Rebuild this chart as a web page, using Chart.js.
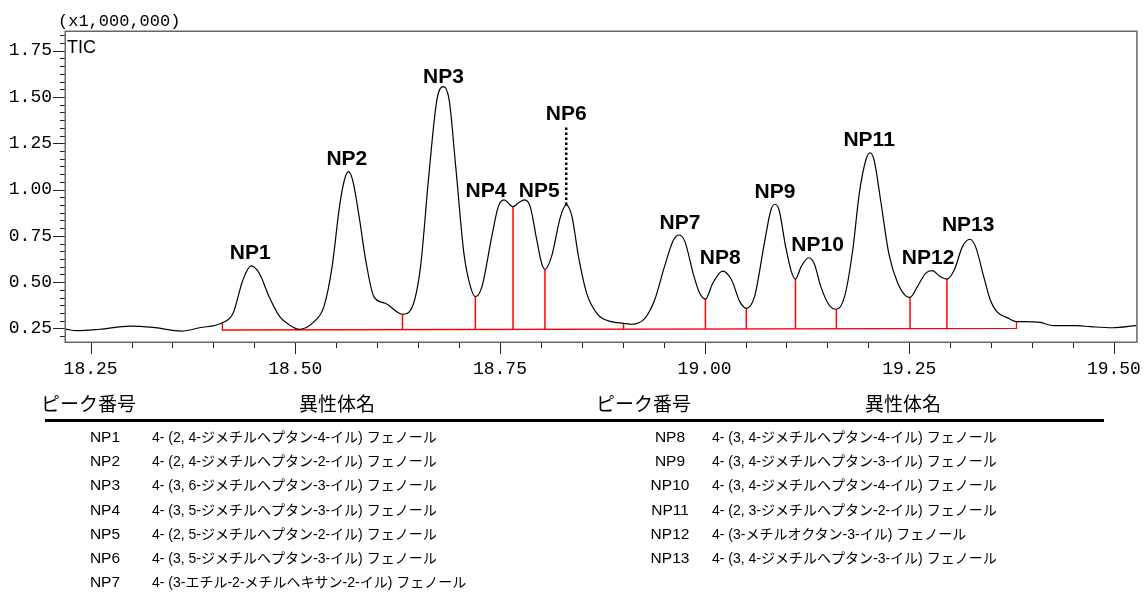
<!DOCTYPE html>
<html><head><meta charset="utf-8">
<script src="https://cdn.jsdelivr.net/npm/chart.js@4.4.0/dist/chart.umd.min.js"></script>
<style>
html,body{margin:0;padding:0;background:#fff;}
#wrap{position:relative;width:1145px;height:606px;overflow:hidden;background:#fff;}
#c{position:absolute;left:0;top:0;}
.t{position:absolute;white-space:nowrap;color:#000;}
.hd{font-family:"Noto Sans CJK JP",sans-serif;font-size:19px;line-height:24px;height:24px;}
.id{font-family:"Liberation Sans",Arial,sans-serif;font-size:15.5px;line-height:24px;height:24px;text-align:center;width:60px;}
.nm{font-family:"Liberation Sans","Noto Sans CJK JP",sans-serif;font-size:14px;line-height:24px;height:24px;}
#rule{position:absolute;left:45px;top:419px;width:1059px;height:3px;background:#000;}
</style></head><body>
<div id="wrap"><canvas id="c" width="1145" height="395" style="width:1145px;height:395px"></canvas><div id="rule"></div></div>
<script>
// ---- data ----
const retentionTime = [18.219,18.233,18.261,18.298,18.326,18.361,18.383,18.411,18.424,18.436,
18.446,18.456,18.468,18.481,18.493,18.505,18.523,18.535,18.545,18.554,
18.560,18.565,18.570,18.578,18.586,18.596,18.610,18.627,18.631,18.643,
18.653,18.663,18.673,18.681,18.688,18.696,18.706,18.714,18.720,18.728,
18.740,18.748,18.755,18.766,18.773,18.780,18.787,18.795,18.801,18.805,
18.813,18.824,18.831,18.838,18.846,18.856,18.870,18.886,18.901,18.911,
18.927,18.939,18.951,18.962,18.969,18.976,18.986,18.994,19.001,19.010,
19.022,19.033,19.043,19.051,19.061,19.073,19.081,19.086,19.091,19.099,
19.106,19.111,19.118,19.127,19.134,19.142,19.152,19.161,19.171,19.181,
19.189,19.197,19.202,19.207,19.215,19.225,19.236,19.246,19.251,19.260,
19.270,19.278,19.288,19.296,19.305,19.315,19.324,19.331,19.341,19.349,
19.357,19.369,19.381,19.390,19.410,19.426,19.455,19.471,19.498,19.528];
const intensity = [0.247,0.238,0.246,0.263,0.256,0.236,0.254,0.281,0.332,0.512,
0.588,0.548,0.422,0.314,0.269,0.246,0.287,0.368,0.584,0.908,
1.052,1.097,1.052,0.854,0.620,0.422,0.386,0.332,0.327,0.368,
0.584,1.070,1.484,1.556,1.484,1.124,0.656,0.476,0.422,0.476,
0.746,0.908,0.944,0.908,0.929,0.944,0.908,0.728,0.602,0.570,
0.638,0.854,0.917,0.854,0.638,0.440,0.323,0.287,0.278,0.273,
0.305,0.404,0.584,0.728,0.755,0.719,0.548,0.440,0.409,0.494,
0.560,0.512,0.395,0.359,0.422,0.710,0.890,0.921,0.890,0.692,
0.557,0.517,0.584,0.632,0.600,0.476,0.377,0.354,0.422,0.674,
0.980,1.160,1.199,1.160,0.944,0.656,0.494,0.425,0.418,0.476,
0.548,0.562,0.530,0.517,0.566,0.692,0.732,0.692,0.530,0.404,
0.341,0.310,0.287,0.287,0.283,0.265,0.265,0.260,0.254,0.267];

// integration baseline (start / end) and peak drop lines
const baselineTime = [18.411, 19.381];
const baselineLevel = [0.242, 0.251];
const baselineEdgeTop = [0.281, 0.287];
const dropTime = [18.505,18.631,18.720,18.766,18.805,18.901,19.001,19.051,19.111,19.161,19.251,19.296];
const dropTop  = [0.246,0.327,0.422,0.908,0.570,0.278,0.409,0.359,0.517,0.354,0.418,0.517];

// NP6 marker (dotted)
const markerTime = [18.831, 18.831];
const markerLevel = [0.917, 1.349];

// peak labels
const peakIds = ['NP1','NP2','NP3','NP4','NP5','NP6','NP7','NP8','NP9','NP10','NP11','NP12','NP13'];
const labelTime = [18.445,18.563,18.681,18.733,18.798,18.831,18.970,19.019,19.086,19.138,19.201,19.273,19.322];
const labelLevel = [0.658,1.165,1.608,0.992,0.992,1.408,0.820,0.631,0.987,0.701,1.268,0.631,0.809];

const isomerNames = [
 '4- (2, 4-ジメチルヘプタン-4-イル) フェノール',
 '4- (2, 4-ジメチルヘプタン-2-イル) フェノール',
 '4- (3, 6-ジメチルヘプタン-3-イル) フェノール',
 '4- (3, 5-ジメチルヘプタン-3-イル) フェノール',
 '4- (2, 5-ジメチルヘプタン-2-イル) フェノール',
 '4- (3, 5-ジメチルヘプタン-3-イル) フェノール',
 '4- (3-エチル-2-メチルヘキサン-2-イル) フェノール',
 '4- (3, 4-ジメチルヘプタン-4-イル) フェノール',
 '4- (3, 4-ジメチルヘプタン-3-イル) フェノール',
 '4- (3, 4-ジメチルヘプタン-4-イル) フェノール',
 '4- (2, 3-ジメチルヘプタン-2-イル) フェノール',
 '4- (3-メチルオクタン-3-イル) フェノール',
 '4- (3, 4-ジメチルヘプタン-3-イル) フェノール'
];
const headerPeak = 'ピーク番号';
const headerName = '異性体名';

const xTickLabels = ['18.25','18.50','18.75','19.00','19.25','19.50'];
const yTickLabels = ['0.25','0.50','0.75','1.00','1.25','1.50','1.75'];
const yUnitText = '(x1,000,000)';
const traceName = 'TIC';

// ---- build datasets ----
const curvePts = retentionTime.map((t,i)=>({x:t,y:intensity[i]}));
const blAt = t => baselineLevel[0] + (t-baselineTime[0])/(baselineTime[1]-baselineTime[0])*(baselineLevel[1]-baselineLevel[0]);
const baselinePts = [
  {x:baselineTime[0], y:baselineEdgeTop[0]},
  {x:baselineTime[0], y:baselineLevel[0]},
  {x:baselineTime[1], y:baselineLevel[1]},
  {x:baselineTime[1], y:baselineEdgeTop[1]}
];
const dropPts = [];
dropTime.forEach((t,i)=>{ dropPts.push({x:t,y:blAt(t)},{x:t,y:dropTop[i]},{x:t,y:null}); });
const markerPts = markerTime.map((t,i)=>({x:t,y:markerLevel[i]}));

const overlay = {
  id:'overlay',
  afterDraw(chart){
    const {ctx, chartArea:a, scales:{x,y}} = chart;
    ctx.save();
    // ticks
    ctx.strokeStyle='#222'; ctx.lineWidth=1;
    const xs=0.05;
    for(let k=Math.ceil(x.min/xs-1e-6);k<=Math.floor(x.max/xs+1e-6);k++){
      const px=Math.round(x.getPixelForValue(k*xs))+0.5;
      const len=(k%5===0)?12:6;
      ctx.beginPath();ctx.moveTo(px,a.bottom);ctx.lineTo(px,a.bottom+len);ctx.stroke();
    }
    const ys=0.25/6;
    for(let k=Math.ceil(y.min/ys-1e-6);k<=Math.floor(y.max/ys+1e-6);k++){
      const py=Math.round(y.getPixelForValue(k*ys))+0.5;
      const len=(k%6===0)?12:5;
      ctx.beginPath();ctx.moveTo(a.left-len,py);ctx.lineTo(a.left,py);ctx.stroke();
    }
    // frame
    ctx.strokeStyle='#666'; ctx.lineWidth=1.5;
    ctx.strokeRect(a.left+0.25,a.top+0.25,a.right-a.left,a.bottom-a.top);
    // peak labels
    ctx.fillStyle='#000';
    ctx.font='bold 21px "Liberation Sans", Arial, sans-serif';
    ctx.textAlign='center'; ctx.textBaseline='middle';
    peakIds.forEach((n,i)=>ctx.fillText(n, x.getPixelForValue(labelTime[i]), y.getPixelForValue(labelLevel[i])));
    // TIC + unit
    ctx.textAlign='left'; ctx.textBaseline='alphabetic';
    ctx.font='18px "Liberation Sans", Arial, sans-serif';
    ctx.fillText(traceName, a.left+2, a.top+22);
    ctx.font='17px "Liberation Mono", monospace';
    ctx.fillText(yUnitText, 58, 26);
    ctx.restore();
  }
};

new Chart(document.getElementById('c'), {
  type:'line',
  data:{datasets:[
    {data:curvePts, borderColor:'#000', borderWidth:1.2, pointRadius:0, cubicInterpolationMode:'monotone', fill:false},
    {data:markerPts, borderColor:'#000', borderWidth:2.5, borderDash:[2.5,2.5], pointRadius:0, fill:false},
    {data:baselinePts, borderColor:'#ff0000', borderWidth:1.3, pointRadius:0, fill:false},
    {data:dropPts, borderColor:'#ff0000', borderWidth:1.5, pointRadius:0, fill:false, spanGaps:false}
  ]},
  options:{
    responsive:false, animation:false, events:[],
    layout:{padding:{top:31,right:5,left:0,bottom:0}},
    plugins:{legend:{display:false}, tooltip:{enabled:false}},
    scales:{
      x:{type:'linear', min:18.2187, max:19.5278,
        afterFit(s){s.height=53;},
        border:{display:false},
        grid:{display:true, drawOnChartArea:false, drawTicks:true, tickLength:12, tickColor:'rgba(0,0,0,0)'},
        ticks:{stepSize:0.25, includeBounds:false, autoSkip:false, maxRotation:0, padding:4, color:'#000',
          font:{family:'"Liberation Mono", monospace', size:18}, callback:(v,i)=>xTickLabels[i]}},
      y:{type:'linear', min:0.1771, max:1.8564,
        afterFit(s){s.width=65;},
        border:{display:false},
        grid:{display:true, drawOnChartArea:false, drawTicks:true, tickLength:12, tickColor:'rgba(0,0,0,0)'},
        ticks:{stepSize:0.25, includeBounds:false, autoSkip:false, padding:1, color:'#000',
          font:{family:'"Liberation Mono", monospace', size:18}, callback:(v,i)=>yTickLabels[i]}}
    }
  },
  plugins:[overlay]
});

// ---- table below ----
const wrap=document.getElementById('wrap');
function put(cls,text,left,cy,center){
  const d=document.createElement('div'); d.className='t '+cls; d.textContent=text;
  d.style.top=(cy-12)+'px';
  if(center){ d.style.left=left+'px'; d.style.transform='translateX(-50%)'; }
  else d.style.left=left+'px';
  wrap.appendChild(d);
}
const cols=[{idC:105,nameL:152,hpL:41,hnC:337,start:0,end:7},{idC:670,nameL:712,hpL:596,hnC:903,start:7,end:13}];
cols.forEach(c=>{
  put('hd',headerPeak,c.hpL,403,false);
  put('hd',headerName,c.hnC,403,true);
  for(let i=c.start;i<c.end;i++){
    const cy=437+24.2*(i-c.start);
    put('id',peakIds[i],c.idC,cy,true);
    put('nm',isomerNames[i],c.nameL,cy,false);
  }
});
</script>
</body></html>
